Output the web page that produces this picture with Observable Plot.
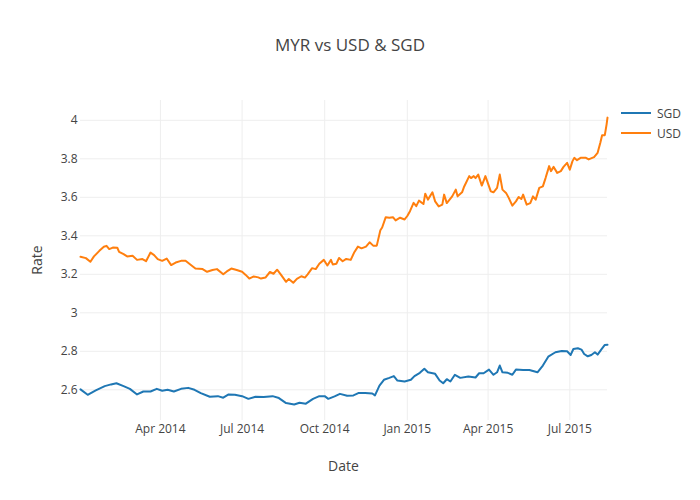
<!DOCTYPE html>
<html><head><meta charset="utf-8">
<script src="https://cdn.jsdelivr.net/npm/d3@7"></script>
<script src="https://cdn.jsdelivr.net/npm/@observablehq/plot@0.6"></script>
<style>
body{margin:0;background:#fff;font-family:"Open Sans",sans-serif;}
#wrap{position:relative;width:700px;height:500px;}
.ov{position:absolute;color:#444;white-space:nowrap;}
#title{left:0;width:700px;top:34px;line-height:22px;font-size:17px;text-align:center;}
#xt{left:80px;width:527px;top:456px;line-height:20px;font-size:14px;text-align:center;}
#yt{left:-13px;top:250px;width:100px;line-height:20px;font-size:14px;text-align:center;transform:rotate(-90deg);}
#legend{left:620px;top:103px;font-size:12px;}
#legend div{display:flex;align-items:center;height:20px;}
#legend svg{margin-right:5px;}
</style></head><body><div id="wrap"></div>
<script>
const sgdDates = ["2014-01-02","2014-01-10","2014-01-19","2014-01-29","2014-02-05","2014-02-11","2014-02-19","2014-02-26","2014-03-06","2014-03-13","2014-03-21","2014-03-28","2014-04-03","2014-04-09","2014-04-16","2014-04-24","2014-05-02","2014-05-09","2014-05-16","2014-05-26","2014-06-04","2014-06-10","2014-06-16","2014-06-23","2014-07-01","2014-07-08","2014-07-16","2014-07-25","2014-08-04","2014-08-11","2014-08-19","2014-08-28","2014-09-03","2014-09-10","2014-09-18","2014-09-25","2014-10-01","2014-10-05","2014-10-12","2014-10-18","2014-10-26","2014-11-02","2014-11-08","2014-11-15","2014-11-23","2014-11-26","2014-12-01","2014-12-06","2014-12-12","2014-12-17","2014-12-21","2014-12-29","2015-01-05","2015-01-09","2015-01-15","2015-01-20","2015-01-24","2015-02-01","2015-02-06","2015-02-10","2015-02-14","2015-02-18","2015-02-23","2015-03-01","2015-03-10","2015-03-18","2015-03-22","2015-03-27","2015-04-02","2015-04-07","2015-04-11","2015-04-14","2015-04-17","2015-04-23","2015-04-28","2015-05-02","2015-05-10","2015-05-17","2015-05-26","2015-06-01","2015-06-07","2015-06-15","2015-06-22","2015-06-28","2015-07-02","2015-07-05","2015-07-10","2015-07-14","2015-07-17","2015-07-21","2015-07-25","2015-07-29","2015-08-01","2015-08-05","2015-08-09","2015-08-12"];
const sgdRates = [2.602,2.574,2.597,2.619,2.628,2.634,2.619,2.605,2.576,2.591,2.591,2.605,2.595,2.600,2.591,2.605,2.610,2.600,2.583,2.564,2.567,2.559,2.576,2.574,2.567,2.553,2.564,2.562,2.567,2.557,2.531,2.524,2.533,2.528,2.553,2.567,2.567,2.553,2.566,2.579,2.569,2.571,2.584,2.584,2.581,2.571,2.622,2.652,2.662,2.671,2.648,2.643,2.652,2.671,2.688,2.709,2.691,2.683,2.648,2.634,2.655,2.643,2.678,2.662,2.669,2.664,2.686,2.686,2.705,2.678,2.691,2.726,2.691,2.688,2.678,2.705,2.703,2.703,2.691,2.726,2.772,2.795,2.802,2.800,2.781,2.812,2.816,2.809,2.786,2.774,2.781,2.795,2.783,2.809,2.833,2.834];
const usdDates = ["2014-01-02","2014-01-08","2014-01-13","2014-01-17","2014-01-23","2014-01-28","2014-01-31","2014-02-03","2014-02-07","2014-02-12","2014-02-14","2014-02-19","2014-02-23","2014-03-01","2014-03-06","2014-03-12","2014-03-16","2014-03-21","2014-03-25","2014-03-29","2014-04-03","2014-04-08","2014-04-13","2014-04-18","2014-04-24","2014-04-29","2014-05-05","2014-05-10","2014-05-18","2014-05-23","2014-05-29","2014-06-03","2014-06-10","2014-06-14","2014-06-19","2014-06-25","2014-07-01","2014-07-05","2014-07-09","2014-07-14","2014-07-19","2014-07-22","2014-07-27","2014-08-01","2014-08-05","2014-08-09","2014-08-13","2014-08-19","2014-08-22","2014-08-27","2014-08-31","2014-09-05","2014-09-09","2014-09-12","2014-09-17","2014-09-21","2014-09-25","2014-09-30","2014-10-04","2014-10-08","2014-10-10","2014-10-14","2014-10-17","2014-10-21","2014-10-25","2014-10-30","2014-11-03","2014-11-07","2014-11-11","2014-11-16","2014-11-20","2014-11-24","2014-11-28","2014-12-02","2014-12-04","2014-12-08","2014-12-12","2014-12-16","2014-12-19","2014-12-24","2014-12-29","2015-01-01","2015-01-04","2015-01-08","2015-01-11","2015-01-14","2015-01-19","2015-01-21","2015-01-24","2015-01-29","2015-02-01","2015-02-05","2015-02-09","2015-02-11","2015-02-14","2015-02-20","2015-02-24","2015-02-26","2015-03-03","2015-03-05","2015-03-11","2015-03-13","2015-03-16","2015-03-18","2015-03-21","2015-03-25","2015-03-29","2015-04-04","2015-04-07","2015-04-11","2015-04-14","2015-04-17","2015-04-21","2015-04-24","2015-04-28","2015-05-02","2015-05-05","2015-05-08","2015-05-10","2015-05-14","2015-05-18","2015-05-21","2015-05-24","2015-05-28","2015-06-01","2015-06-04","2015-06-08","2015-06-10","2015-06-13","2015-06-17","2015-06-21","2015-06-24","2015-06-28","2015-07-01","2015-07-04","2015-07-06","2015-07-09","2015-07-13","2015-07-19","2015-07-22","2015-07-28","2015-08-01","2015-08-04","2015-08-06","2015-08-09","2015-08-11","2015-08-12"];
const usdRates = [3.291,3.284,3.265,3.293,3.322,3.343,3.348,3.331,3.339,3.338,3.317,3.305,3.293,3.296,3.275,3.279,3.268,3.313,3.300,3.279,3.270,3.282,3.248,3.261,3.270,3.270,3.248,3.230,3.227,3.213,3.222,3.227,3.200,3.215,3.230,3.222,3.213,3.197,3.178,3.189,3.184,3.178,3.183,3.212,3.203,3.224,3.200,3.161,3.176,3.156,3.176,3.190,3.183,3.200,3.232,3.227,3.255,3.275,3.246,3.275,3.251,3.255,3.285,3.268,3.280,3.275,3.315,3.344,3.335,3.344,3.366,3.349,3.349,3.429,3.443,3.497,3.494,3.497,3.480,3.494,3.485,3.503,3.528,3.571,3.554,3.583,3.565,3.619,3.588,3.626,3.579,3.553,3.562,3.614,3.570,3.605,3.640,3.605,3.626,3.652,3.710,3.700,3.710,3.700,3.718,3.661,3.710,3.631,3.626,3.649,3.718,3.640,3.623,3.597,3.557,3.579,3.602,3.591,3.614,3.562,3.570,3.605,3.588,3.649,3.657,3.700,3.762,3.736,3.758,3.727,3.736,3.758,3.779,3.744,3.788,3.805,3.793,3.805,3.805,3.797,3.809,3.831,3.883,3.922,3.923,3.979,4.014];
const yTicks = [2.6, 2.8, 3, 3.2, 3.4, 3.6, 3.8, 4];
const xTicks = ["2014-04-01","2014-07-01","2014-10-01","2015-01-01","2015-04-01","2015-07-01"];
const xDomain = ["2014-01-02","2015-08-12"];
const yDomain = [2.4405, 4.103];

const sgd = sgdDates.map((d, i) => ({date: new Date(d), rate: sgdRates[i]}));
const usd = usdDates.map((d, i) => ({date: new Date(d), rate: usdRates[i]}));
const xTickDates = xTicks.map(d => new Date(d));

const chart = Plot.plot({
  width: 700, height: 500,
  marginTop: 100, marginBottom: 80, marginLeft: 80, marginRight: 93,
  style: {fontFamily: "'Open Sans', sans-serif", fontSize: "12px", color: "#444", background: "#fff"},
  x: {type: "utc", domain: xDomain.map(d => new Date(d))},
  y: {domain: yDomain},
  marks: [
    Plot.gridX(xTickDates, {stroke: "#eee", strokeOpacity: 1}),
    Plot.gridY(yTicks, {stroke: "#eee", strokeOpacity: 1}),
    Plot.axisX(xTickDates, {tickFormat: d3.utcFormat("%b %Y"), tickSize: 0, tickPadding: 4, label: null}),
    Plot.axisY(yTicks, {tickFormat: d => String(d), tickSize: 0, tickPadding: 3, label: null}),
    Plot.line(sgd, {x: "date", y: "rate", stroke: "#1f77b4", strokeWidth: 2}),
    Plot.line(usd, {x: "date", y: "rate", stroke: "#ff7f0e", strokeWidth: 2})
  ]
});
const wrap = document.getElementById("wrap");
wrap.appendChild(chart);
wrap.insertAdjacentHTML("beforeend", `
<div class="ov" id="title">MYR vs USD &amp; SGD</div>
<div class="ov" id="xt">Date</div>
<div class="ov" id="yt">Rate</div>
<div class="ov" id="legend">
  <div><svg width="32" height="4"><line x1="1" y1="2" x2="31" y2="2" stroke="#1f77b4" stroke-width="2"/></svg>SGD</div>
  <div><svg width="32" height="4"><line x1="1" y1="2" x2="31" y2="2" stroke="#ff7f0e" stroke-width="2"/></svg>USD</div>
</div>`);
</script></body></html>
